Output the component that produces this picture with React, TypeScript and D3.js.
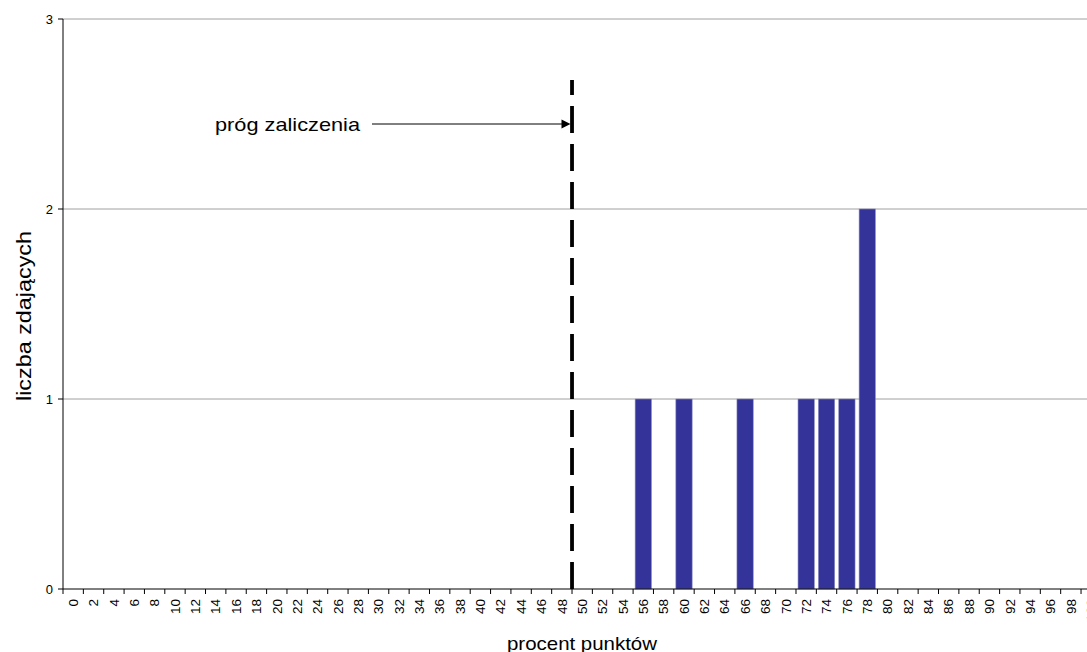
import React from "react";
import * as d3 from "d3";

const categories: string[] = [
  "0","2","4","6","8","10","12","14","16","18","20","22","24","26","28","30","32","34","36","38","40","42","44","46","48","50","52","54","56","58","60","62","64","66","68","70","72","74","76","78","80","82","84","86","88","90","92","94","96","98","100"
];
const counts: number[] = [
  0,0,0,0,0,0,0,0,0,0,0,0,0,0,0,0,0,0,0,0,0,0,0,0,0,0,0,0,1,0,1,0,0,1,0,0,1,1,1,2,0,0,0,0,0,0,0,0,0,0,0
];
const yTicks: number[] = [0, 1, 2, 3];
const thresholdCategory = "50";
const thresholdLabel = "próg zaliczenia";
const xTitle = "procent punktów";
const yTitle = "liczba zdających";

const W = 1087;
const H = 652;
const left = 63;
const right = 1101.4;
const top = 19;
const bottom = 589;
const FONT = "'Liberation Sans', Arial, sans-serif";

export default function App() {
  const x = d3.scaleBand<string>().domain(categories).range([left, right]).paddingInner(0.2).paddingOuter(0.1);
  const y = d3.scaleLinear().domain([0, 3]).range([bottom, top]);
  const step = x.step();
  const boundary = (i: number) => left + i * step;
  const thrX = (x(thresholdCategory) as number) - step * 0.1;
  const arrowY = 124;

  return (
    <svg width={W} height={H} style={{ position: "absolute", left: 0, top: 0, background: "#fff" }} fontFamily={FONT}>
      {yTicks.filter((t) => t > 0).map((t) => (
        <line key={"g" + t} x1={left} x2={W} y1={y(t)} y2={y(t)} stroke="#a0a0a0" strokeWidth={1} />
      ))}
      {categories.map((c, i) =>
        counts[i] > 0 ? (
          <rect key={"b" + c} x={x(c)} y={y(counts[i])} width={x.bandwidth()} height={bottom - y(counts[i])} fill="#333399" stroke="#8a8ac4" strokeWidth={0.6} />
        ) : null
      )}
      <line x1={left} x2={left} y1={top} y2={bottom} stroke="#000" strokeWidth={1} />
      {yTicks.map((t) => (
        <g key={"yt" + t}>
          <line x1={left - 5} x2={left} y1={y(t)} y2={y(t)} stroke="#000" />
          <text x={53} y={y(t)} dy="0.35em" textAnchor="end" fontSize={13} fill="#000">{t}</text>
        </g>
      ))}
      <line x1={left} x2={right} y1={bottom} y2={bottom} stroke="#000" strokeWidth={1} />
      {d3.range(categories.length + 1).map((i) => (
        <line key={"xt" + i} x1={boundary(i)} x2={boundary(i)} y1={bottom} y2={bottom + 5} stroke="#000" />
      ))}
      {categories.map((c) => {
        const cx = (x(c) as number) + x.bandwidth() / 2;
        return (
          <text key={"xl" + c} transform={`translate(${cx},${599}) rotate(-90)`} textAnchor="end" dy="0.35em" fontSize={13.5} fill="#000">{c}</text>
        );
      })}
      <line x1={thrX} x2={thrX} y1={bottom} y2={80} stroke="#000" strokeWidth={3.8} strokeDasharray="27,11" />
      <line x1={372} x2={564} y1={arrowY} y2={arrowY} stroke="#000" strokeWidth={1} />
      <path d={`M${thrX - 1.5},${arrowY} L${thrX - 10.5},${arrowY - 4.5} L${thrX - 10.5},${arrowY + 4.5} Z`} fill="#000" />
      <text x={215} y={131} fontSize={19} textLength={145} lengthAdjust="spacingAndGlyphs" fill="#000">{thresholdLabel}</text>
      <text x={582} y={650} textAnchor="middle" fontSize={19} textLength={150} lengthAdjust="spacingAndGlyphs" fill="#000">{xTitle}</text>
      <text transform={`translate(31,316) rotate(-90)`} textAnchor="middle" fontSize={21} textLength={170} lengthAdjust="spacingAndGlyphs" fill="#000">{yTitle}</text>
    </svg>
  );
}
